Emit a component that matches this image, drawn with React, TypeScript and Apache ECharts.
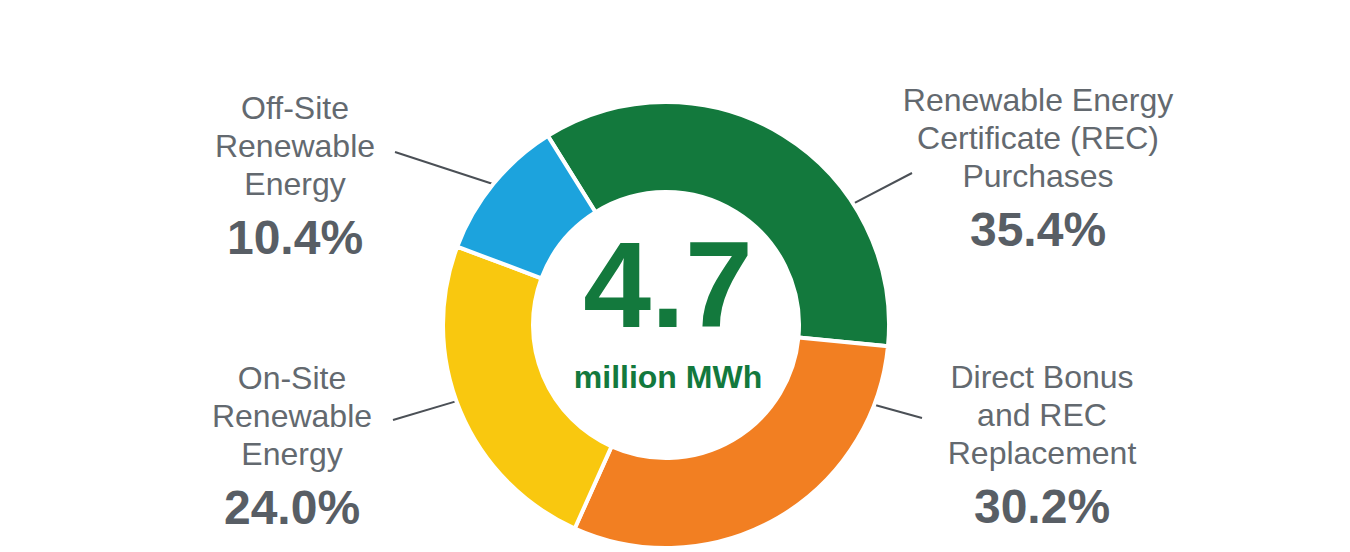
import { useEffect, useRef } from "react";
import * as echarts from "echarts";

// shares of the 4.7 million MWh, clockwise from the upper left
const categories = [
  "Renewable Energy\nCertificate (REC)\nPurchases",
  "Direct Bonus\nand REC\nReplacement",
  "On-Site\nRenewable\nEnergy",
  "Off-Site\nRenewable\nEnergy",
];
const shares = [35.4, 30.2, 24.0, 10.4];
const colors = ["#13793d", "#f27f22", "#f9c80f", "#1ca3dd"];
const totalValue = "4.7";
const totalUnit = "million MWh";

const FONT = '"Liberation Sans", Arial, sans-serif';
const CX = 666;
const CY = 325;
const R_OUT = 223;
const R_IN = 133;

// where each label block sits, and how its guide line runs
const labelCentres = [
  [1038, 172],
  [1042, 449],
  [292, 450],
  [295, 180],
];
const guideAngles = [33, -21, 200, 140.6];
const guideEnds = [
  [912, 173],
  [922, 418],
  [393, 420],
  [395, 152],
];

export default function App() {
  const ref = useRef<HTMLDivElement | null>(null);

  useEffect(() => {
    if (!ref.current) {
      return;
    }
    const chart = echarts.init(ref.current, undefined, { renderer: "svg" });

    const option: echarts.EChartsOption = {
      animation: false,
      backgroundColor: "#ffffff",
      series: [
        {
          type: "pie",
          center: [CX, CY],
          radius: [R_IN, R_OUT],
          startAngle: 122,
          clockwise: true,
          avoidLabelOverlap: false,
          emphasis: { disabled: true },
          itemStyle: { borderColor: "#ffffff", borderWidth: 4 },
          data: categories.map((name, i) => ({
            name,
            value: shares[i],
            itemStyle: { color: colors[i] },
          })),
          label: {
            show: true,
            position: "outside",
            overflow: "none",
            formatter: (p: any) =>
              String(p.name)
                .split("\n")
                .map((s: string) => `{t|${s}}`)
                .join("\n") + `\n{p|${Number(p.value).toFixed(1)}%}`,
            rich: {
              t: {
                fontFamily: FONT,
                fontSize: 32,
                lineHeight: 38,
                color: "#63696f",
                align: "center",
              },
              p: {
                fontFamily: FONT,
                fontSize: 48,
                fontWeight: "bold",
                lineHeight: 68,
                color: "#585e65",
                align: "center",
              },
            },
          },
          labelLine: {
            show: true,
            lineStyle: { color: "#4b5056", width: 2 },
          },
          labelLayout: (params: any) => {
            const i = params.dataIndex;
            const a = (guideAngles[i] * Math.PI) / 180;
            const r = R_OUT - 2;
            const start = [CX + r * Math.cos(a), CY - r * Math.sin(a)];
            return {
              x: labelCentres[i][0],
              y: labelCentres[i][1],
              align: "center",
              verticalAlign: "middle",
              labelLinePoints: [start, guideEnds[i]],
            };
          },
        },
      ],
      graphic: [
        {
          type: "text",
          x: CX + 2,
          y: 285,
          style: {
            text: totalValue,
            fontFamily: FONT,
            fontSize: 122,
            lineHeight: 122,
            fontWeight: "bold",
            fill: "#13793d",
            align: "center",
            verticalAlign: "middle",
          },
        },
        {
          type: "text",
          x: CX + 2,
          y: 377,
          style: {
            text: totalUnit,
            fontFamily: FONT,
            fontSize: 32,
            lineHeight: 32,
            fontWeight: "bold",
            fill: "#13793d",
            align: "center",
            verticalAlign: "middle",
          },
        },
      ],
    };

    chart.setOption(option);

    return () => {
      chart.dispose();
    };
  }, []);

  return (
    <div
      ref={ref}
      style={{ position: "absolute", left: 0, top: 0, width: 1350, height: 552 }}
    />
  );
}
